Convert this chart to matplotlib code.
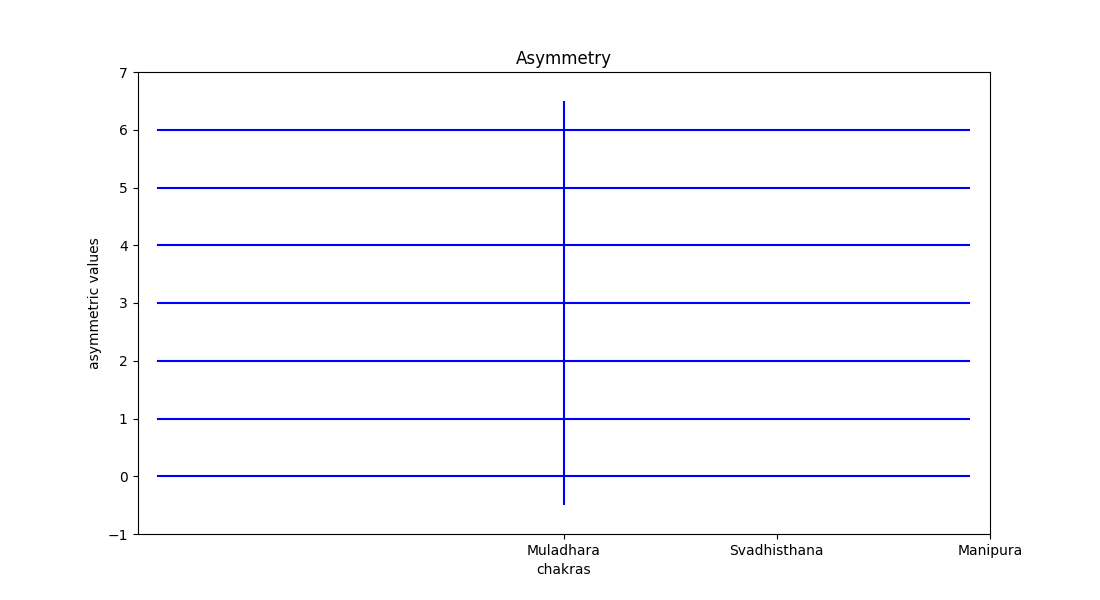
import matplotlib
matplotlib.use("Agg")
import matplotlib.pyplot as plt

# chakra tick labels and their x positions
chakras = ['Muladhara', 'Svadhisthana', 'Manipura']
chakra_pos = [2, 3, 4]

# asymmetric values drawn as horizontal lines
levels = [0, 1, 2, 3, 4, 5, 6]

# vertical marker at Muladhara
marker_x = 2
marker_span = [-0.5, 6.5]

fig, ax = plt.subplots(figsize=(11, 6), dpi=100)

for y in levels:
    ax.axhline(y=y, xmin=0.0245, xmax=0.9755, color='blue')
ax.vlines(marker_x, marker_span[0], marker_span[1], color='blue')

ax.set_xlim(0, 4)
ax.set_ylim(-1, 7)
ax.set_xticks(chakra_pos)
ax.set_xticklabels(chakras)
ax.set_xlabel('chakras')
ax.set_ylabel('asymmetric values')
ax.set_title('Asymmetry')

plt.savefig('out.png')
